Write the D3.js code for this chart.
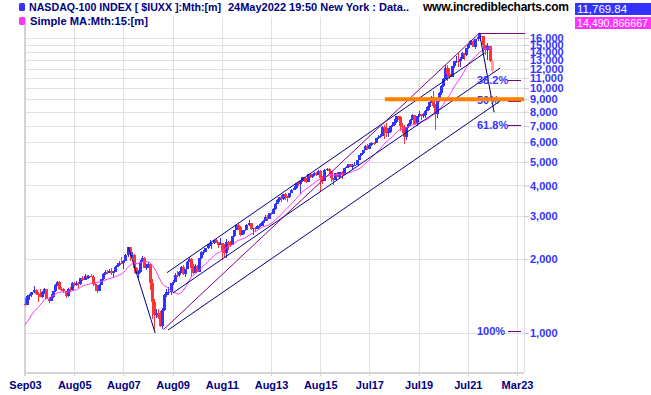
<!DOCTYPE html>
<html>
<head>
<meta charset="utf-8">
<script src="https://cdn.jsdelivr.net/npm/d3@7"></script>
<style>
body { margin: 0; background: #fff; }
svg { display: block; font-family: "Liberation Sans", Arial, sans-serif; }
</style>
</head>
<body>
<svg id="chart" width="651" height="395"></svg>
<script>
// monthly NASDAQ-100 bars, Sep 2003 .. May 2022
var first_month = "2003-09";

var bar_open = [
    1316, 1304, 1415, 1425,
    1468, 1494, 1446, 1438, 1401, 1466, 1517, 1375, 1354, 1406, 1478, 1566,
    1621, 1519, 1506, 1483, 1411, 1516, 1493, 1605, 1574, 1601, 1579, 1670,
    1645, 1710, 1675, 1703, 1700, 1590, 1575, 1482, 1567, 1654, 1736, 1776,
    1756, 1793, 1765, 1772, 1868, 1901, 1934, 1928, 1970, 2091, 2238, 2074,
    2085, 1842, 1748, 1781, 1950, 2031, 1837, 1873, 1919, 1606, 1338, 1180,
    1212, 1163, 1069, 1237, 1433, 1477, 1477, 1595, 1610, 1720, 1718, 1766,
    1860, 1742, 1828, 1957, 2004, 1845, 1754, 1884, 1782, 2022, 2137, 2142,
    2218, 2285, 2334, 2338, 2401, 2354, 2294, 2320, 2165, 2120, 2350, 2300,
    2278, 2477, 2634, 2756, 2718, 2523, 2616, 2632, 2772, 2799, 2650, 2677,
    2661, 2731, 2738, 2818, 2866, 2982, 2910, 3096, 3049, 3218, 3372, 3501,
    3592, 3521, 3689, 3596, 3583, 3736, 3849, 3895, 4083, 4050, 4158, 4335,
    4236, 4150, 4441, 4334, 4415, 4509, 4397, 4587, 4275, 4182, 4648, 4665,
    4593, 4280, 4201, 4484, 4341, 4523, 4418, 4731, 4772, 4875, 4801, 4811,
    4864, 5078, 5331, 5436, 5584, 5788, 5647, 5880, 5988, 5979, 6248, 6338,
    6397, 6950, 6855, 6581, 6606, 6968, 7040, 7272, 7660, 7627, 6968, 6950,
    6330, 6907, 7097, 7378, 7781, 7127, 7672, 7849, 7692, 7750, 8084, 8403,
    8733, 9150, 8462, 7813, 8890, 9556, 10157, 10906, 12111, 11418, 11052, 12268,
    12888, 12925, 12909, 13092, 13861, 13687, 14554, 14960, 15582, 14690, 15850, 16135,
    16320, 14931, 14237, 14839, 12855
];
var bar_high = [
    1392, 1426, 1442, 1471,
    1553, 1510, 1475, 1516, 1480, 1521, 1500, 1390, 1440, 1487, 1586, 1630,
    1627, 1545, 1530, 1485, 1530, 1545, 1615, 1610, 1625, 1610, 1680, 1716,
    1735, 1720, 1720, 1745, 1720, 1605, 1575, 1590, 1665, 1750, 1815, 1805,
    1830, 1835, 1790, 1875, 1935, 1975, 2035, 1990, 2095, 2239, 2222, 2140,
    2100, 1865, 1800, 1980, 2070, 2050, 1915, 1955, 1915, 1660, 1380, 1250,
    1255, 1230, 1265, 1440, 1510, 1545, 1600, 1650, 1750, 1790, 1795, 1885,
    1895, 1830, 1965, 2040, 2020, 1910, 1910, 1900, 2030, 2160, 2180, 2228,
    2300, 2400, 2345, 2410, 2430, 2360, 2435, 2320, 2300, 2420, 2380, 2365,
    2480, 2640, 2780, 2800, 2740, 2625, 2645, 2780, 2880, 2820, 2690, 2715,
    2750, 2780, 2830, 2880, 3040, 3030, 3100, 3130, 3230, 3380, 3510, 3600,
    3650, 3700, 3740, 3610, 3740, 3855, 3990, 4085, 4120, 4160, 4350, 4350,
    4290, 4450, 4480, 4470, 4550, 4550, 4610, 4640, 4380, 4650, 4720, 4700,
    4590, 4290, 4490, 4560, 4540, 4565, 4735, 4795, 4890, 4895, 4900, 4965,
    5100, 5335, 5450, 5590, 5830, 5900, 5965, 6000, 6005, 6270, 6410, 6460,
    7020, 7030, 7190, 6880, 6980, 7280, 7470, 7660, 7700, 7700, 7200, 7050,
    6960, 7165, 7450, 7850, 7780, 7720, 8040, 7850, 7900, 8100, 8405, 8740,
    9270, 9720, 8600, 9030, 9600, 10280, 10950, 12440, 12420, 12050, 12330, 12900,
    13500, 13880, 13350, 14060, 13880, 14570, 15100, 15630, 15700, 15860, 16765, 16573,
    16320, 15045, 15260, 14840, 13100
];
var bar_low = [
    1285, 1305, 1367, 1400,
    1455, 1430, 1340, 1398, 1385, 1440, 1372, 1322, 1345, 1386, 1464, 1560,
    1500, 1490, 1460, 1390, 1406, 1480, 1486, 1560, 1560, 1522, 1576, 1635,
    1640, 1660, 1665, 1690, 1560, 1480, 1450, 1480, 1565, 1640, 1725, 1745,
    1750, 1730, 1690, 1770, 1860, 1880, 1905, 1825, 1960, 2050, 1960, 2030,
    1756, 1740, 1670, 1760, 1945, 1837, 1800, 1840, 1500, 1145, 1018, 1150,
    1140, 1060, 1043, 1230, 1400, 1430, 1425, 1570, 1620, 1690, 1700, 1760,
    1730, 1700, 1825, 1950, 1700, 1745, 1750, 1770, 1785, 2000, 2080, 2140,
    2210, 2270, 2200, 2310, 2330, 2215, 2290, 1985, 2035, 2020, 2180, 2240,
    2280, 2470, 2630, 2640, 2480, 2510, 2540, 2630, 2740, 2640, 2520, 2610,
    2660, 2690, 2730, 2745, 2860, 2870, 2920, 3040, 3050, 3185, 3350, 3440,
    3420, 3480, 3500, 3410, 3545, 3720, 3850, 3860, 3990, 3700, 4130, 4120,
    4090, 4160, 4300, 4300, 4390, 4390, 4400, 3790, 4050, 4180, 4580, 4450,
    4145, 4000, 4200, 4320, 4280, 4240, 4400, 4720, 4700, 4770, 4660, 4790,
    4870, 5070, 5300, 5370, 5580, 5570, 5640, 5800, 5860, 5970, 6170, 6230,
    6390, 6165, 6330, 6330, 6570, 6900, 7000, 7230, 7400, 6690, 6580, 5900,
    6150, 6840, 6970, 7380, 7080, 6980, 7600, 7420, 7560, 7550, 8050, 8130,
    8720, 8250, 6770, 7570, 8750, 9340, 10060, 10870, 10680, 10930, 11150, 12110,
    12600, 12200, 12200, 13080, 13000, 13510, 14400, 14940, 14680, 14490, 15600, 15500,
    13725, 13700, 13020, 12810, 11530
];
var bar_close = [
    1304, 1415, 1425, 1468,
    1494, 1446, 1438, 1401, 1466, 1517, 1375, 1354, 1406, 1478, 1566, 1621,
    1519, 1506, 1483, 1411, 1516, 1493, 1605, 1574, 1601, 1579, 1670, 1645,
    1710, 1675, 1703, 1700, 1590, 1575, 1482, 1567, 1654, 1736, 1776, 1756,
    1793, 1765, 1772, 1868, 1901, 1934, 1928, 1970, 2091, 2238, 2074, 2085,
    1842, 1748, 1781, 1950, 2031, 1837, 1873, 1919, 1606, 1338, 1180, 1212,
    1163, 1069, 1237, 1433, 1477, 1477, 1595, 1610, 1720, 1718, 1766, 1860,
    1742, 1828, 1957, 2004, 1845, 1754, 1884, 1782, 2022, 2137, 2142, 2218,
    2285, 2334, 2338, 2401, 2354, 2294, 2320, 2165, 2120, 2350, 2300, 2278,
    2477, 2634, 2756, 2718, 2523, 2616, 2632, 2772, 2799, 2650, 2677, 2661,
    2731, 2738, 2818, 2866, 2982, 2910, 3096, 3049, 3218, 3372, 3501, 3592,
    3521, 3689, 3596, 3583, 3736, 3849, 3895, 4083, 4050, 4158, 4335, 4236,
    4150, 4441, 4334, 4415, 4509, 4397, 4587, 4275, 4182, 4648, 4665, 4593,
    4280, 4201, 4484, 4341, 4523, 4418, 4731, 4772, 4875, 4801, 4811, 4864,
    5078, 5331, 5436, 5584, 5788, 5647, 5880, 5988, 5979, 6248, 6338, 6397,
    6950, 6855, 6581, 6606, 6968, 7040, 7272, 7660, 7627, 6968, 6950, 6330,
    6907, 7097, 7378, 7781, 7127, 7672, 7849, 7692, 7750, 8084, 8403, 8733,
    9150, 8462, 7813, 8890, 9556, 10157, 10906, 12111, 11418, 11052, 12268, 12888,
    12925, 12909, 13092, 13861, 13687, 14554, 14960, 15582, 14690, 15850, 16135, 16320,
    14931, 14237, 14839, 12855, 11770
];
// closes Jul02 .. Aug03, needed to start the 15 month average
var ma_warmup = [962, 942, 832, 990, 1073, 984, 982, 1009, 1018, 1106, 1198, 1201, 1258, 1316];
var ma_period = 15;

var tick_labels = ["Sep03", "Aug05", "Aug07", "Aug09", "Aug11", "Aug13", "Aug15", "Jul17", "Jul19", "Jul21", "Mar23"];
var tick_months = ["2003-09", "2005-08", "2007-08", "2009-08", "2011-08", "2013-08", "2015-08", "2017-07", "2019-07", "2021-07", "2023-03"];
var y_ticks = [1000, 2000, 3000, 4000, 5000, 6000, 7000, 8000, 9000, 10000, 11000, 12000, 13000, 14000, 15000, 16000];

// hand drawn trend lines: [date, value] pairs
var navy_lines = [
    [["2007-10-15", 2240], ["2008-11-15", 1000]],
    [["2009-05-10", 1763], ["2022-01-25", 13900]],
    [["2009-08-05", 1457], ["2022-08-05", 12066]],
    [["2009-05-25", 1028], ["2022-08-05", 8852]],
    [["2021-11-22", 16765], ["2022-05-22", 7958]]
];
var purple_lines = [
    [["2009-03-15", 1030], ["2021-11-22", 16765]]
];

// retracement between the 2008 low and the 2021 peak
var fib_peak = ["2021-11-22", 16765];
var fib_low = 1018;
var fib_levels = [0.382, 0.5, 0.618, 1];
var fib_labels = ["38.2%", "50%", "61.8%", "100%"];

var support_level = ["2018-02-15", 9000];

var header_title = "NASDAQ-100 INDEX [ $IUXX ]:Mth:[m]";
var header_time = "24May2022 19:50 New York : Data..";
var header_ma = "Simple MA:Mth:15:[m]";
var header_site = "www.incrediblecharts.com";
var last_close_text = "11,769.84";
var last_ma_text = "14,490.866667";

var blue = "#3333ff";
var red = "#ff3333";
var magenta = "#ff33ff";
var navy = "#000080";
var purple = "#800080";
var grid_colour = "#e0e0e0";

var plot_left = 25;
var plot_right = 524;
var plot_top = 17;
var plot_bottom = 373;
var tick_step = 49.2;

var parse_month = d3.timeParse("%Y-%m");
var parse_day = d3.timeParse("%Y-%m-%d");

var x = d3.scaleTime()
    .domain(tick_months.map(parse_month))
    .range(tick_months.map(function(d, i) { return plot_left + i * tick_step; }));

var y = d3.scaleLog()
    .domain([1000, 10000])
    .range([333, 88]);

var svg = d3.select("#chart");

// grid
var grid = svg.append("g").attr("shape-rendering", "crispEdges");
grid.selectAll("line.h")
    .data(y_ticks)
    .enter()
    .append("line")
    .attr("x1", plot_left)
    .attr("x2", plot_right)
    .attr("y1", function(d) { return Math.round(y(d)) + 0.5; })
    .attr("y2", function(d) { return Math.round(y(d)) + 0.5; })
    .attr("stroke", grid_colour);
grid.selectAll("line.v")
    .data(tick_months)
    .enter()
    .append("line")
    .attr("x1", function(d) { return Math.round(x(parse_month(d))) + 0.5; })
    .attr("x2", function(d) { return Math.round(x(parse_month(d))) + 0.5; })
    .attr("y1", plot_top)
    .attr("y2", plot_bottom)
    .attr("stroke", grid_colour);
grid.append("line")
    .attr("x1", plot_left).attr("x2", plot_left)
    .attr("y1", plot_top).attr("y2", plot_bottom + 3)
    .attr("stroke", "#d4d4d4").attr("stroke-width", 2);
grid.append("line")
    .attr("x1", plot_right + 0.5).attr("x2", plot_right + 0.5)
    .attr("y1", plot_top).attr("y2", plot_bottom)
    .attr("stroke", grid_colour);
grid.append("line")
    .attr("x1", plot_left).attr("x2", plot_right)
    .attr("y1", plot_bottom).attr("y2", plot_bottom)
    .attr("stroke", "#d4d4d4").attr("stroke-width", 2);

// x axis
var x_axis = svg.append("g")
    .attr("transform", "translate(0," + plot_bottom + ")")
    .call(d3.axisBottom(x)
        .tickValues(tick_months.map(parse_month))
        .tickFormat(function(d, i) { return tick_labels[i]; })
        .tickSize(3)
        .tickPadding(5));
x_axis.select(".domain").remove();
x_axis.selectAll(".tick line").attr("stroke", "#d4d4d4");
x_axis.selectAll(".tick text")
    .attr("fill", navy)
    .style("font-family", "'Liberation Sans', Arial, sans-serif")
    .style("font-weight", "bold")
    .style("font-size", "11px");

// y axis on the right
var y_axis = svg.append("g")
    .attr("transform", "translate(" + plot_right + ",0)")
    .call(d3.axisRight(y)
        .tickValues(y_ticks)
        .tickFormat(d3.format(","))
        .tickSize(5)
        .tickPadding(1));
y_axis.select(".domain").remove();
y_axis.selectAll(".tick line").attr("stroke", "#c8c8c8");
y_axis.selectAll(".tick text")
    .attr("fill", blue)
    .style("font-family", "'Liberation Sans', Arial, sans-serif")
    .style("font-weight", "bold")
    .style("font-size", "11px");

// bars
var start = parse_month(first_month);
var bars = bar_close.map(function(c, i) {
    return {
        date: d3.timeMonth.offset(start, i),
        o: bar_open[i], h: bar_high[i], l: bar_low[i], c: c,
        last: i === bar_close.length - 1
    };
});

function bar_colour(d) {
    if (d.last) {
        return "#ff9f9f";
    }
    return d.c >= d.o ? blue : red;
}

var candles = svg.append("g").attr("shape-rendering", "crispEdges");
candles.selectAll("rect.wick")
    .data(bars)
    .enter()
    .append("rect")
    .attr("x", function(d) { return Math.round(x(d.date)); })
    .attr("y", function(d) { return y(d.h); })
    .attr("width", 1)
    .attr("height", function(d) { return Math.max(1, y(d.l) - y(d.h)); })
    .attr("fill", bar_colour);
candles.selectAll("rect.body")
    .data(bars)
    .enter()
    .append("rect")
    .attr("x", function(d) { return Math.round(x(d.date)) - 1; })
    .attr("y", function(d) { return y(Math.max(d.o, d.c)); })
    .attr("width", 3)
    .attr("height", function(d) { return Math.max(1, Math.abs(y(d.o) - y(d.c))); })
    .attr("fill", bar_colour);

// 15 month simple moving average
var all_closes = ma_warmup.concat(bar_close);
var ma = bars.map(function(d, i) {
    return { date: d.date, v: d3.mean(all_closes.slice(i, i + ma_period)) };
});
svg.append("path")
    .datum(ma)
    .attr("fill", "none")
    .attr("stroke", magenta)
    .attr("stroke-width", 1)
    .attr("d", d3.line()
        .x(function(d) { return x(d.date); })
        .y(function(d) { return y(d.v); }));

// trend lines
function draw_lines(lines, colour) {
    svg.append("g")
        .selectAll("line")
        .data(lines)
        .enter()
        .append("line")
        .attr("x1", function(d) { return x(parse_day(d[0][0])); })
        .attr("y1", function(d) { return y(d[0][1]); })
        .attr("x2", function(d) { return x(parse_day(d[1][0])); })
        .attr("y2", function(d) { return y(d[1][1]); })
        .attr("stroke", colour)
        .attr("stroke-width", 1);
}
draw_lines(navy_lines, navy);
draw_lines(purple_lines, purple);

// peak level to the axis
svg.append("line")
    .attr("x1", x(parse_day(fib_peak[0])))
    .attr("x2", plot_right + 1)
    .attr("y1", Math.round(y(fib_peak[1])) + 0.5)
    .attr("y2", Math.round(y(fib_peak[1])) + 0.5)
    .attr("stroke", purple)
    .attr("stroke-width", 1);

// fibonacci retracement marks
var fib = fib_levels.map(function(f, i) {
    return { label: fib_labels[i], v: fib_peak[1] - f * (fib_peak[1] - fib_low) };
});
var fib_g = svg.append("g");
fib_g.selectAll("line")
    .data(fib)
    .enter()
    .append("line")
    .attr("x1", 508)
    .attr("x2", 521)
    .attr("y1", function(d) { return Math.round(y(d.v)) + 0.5; })
    .attr("y2", function(d) { return Math.round(y(d.v)) + 0.5; })
    .attr("stroke", purple)
    .attr("stroke-width", 1);
fib_g.selectAll("text")
    .data(fib)
    .enter()
    .append("text")
    .attr("x", 477)
    .attr("y", function(d) { return y(d.v); })
    .attr("dy", "0.35em")
    .attr("fill", blue)
    .style("font-weight", "bold")
    .style("font-size", "11px")
    .text(function(d) { return d.label; });

// support line
svg.append("line")
    .attr("x1", x(parse_day(support_level[0])))
    .attr("x2", plot_right)
    .attr("y1", y(support_level[1]))
    .attr("y2", y(support_level[1]))
    .attr("stroke", "#ff8000")
    .attr("stroke-width", 4);

// header
var header = svg.append("g");
header.append("rect").attr("x", 19).attr("y", 3).attr("width", 6).attr("height", 8).attr("rx", 1.5).attr("fill", blue);
header.append("rect").attr("x", 19).attr("y", 17).attr("width", 6).attr("height", 8).attr("rx", 1.5).attr("fill", magenta);
header.append("text").attr("x", 29).attr("y", 11).attr("fill", navy)
    .attr("textLength", 192).attr("lengthAdjust", "spacingAndGlyphs")
    .style("font-weight", "bold").style("font-size", "11px").text(header_title);
header.append("text").attr("x", 228).attr("y", 11).attr("fill", navy)
    .attr("textLength", 181).attr("lengthAdjust", "spacingAndGlyphs")
    .style("font-weight", "bold").style("font-size", "11px").text(header_time);
header.append("text").attr("x", 30).attr("y", 25).attr("fill", navy)
    .attr("textLength", 118).attr("lengthAdjust", "spacingAndGlyphs")
    .style("font-weight", "bold").style("font-size", "11px").text(header_ma);
header.append("text").attr("x", 423).attr("y", 11).attr("fill", "#000")
    .attr("textLength", 146).attr("lengthAdjust", "spacing")
    .style("font-weight", "bold").style("font-size", "12px").text(header_site);
header.append("rect").attr("x", 575).attr("y", 3).attr("width", 76).attr("height", 12).attr("fill", blue);
header.append("rect").attr("x", 575).attr("y", 17).attr("width", 76).attr("height", 12).attr("fill", magenta);
header.append("text").attr("x", 577).attr("y", 13).attr("fill", "#fff")
    .attr("textLength", 50).attr("lengthAdjust", "spacingAndGlyphs")
    .style("font-size", "11px").text(last_close_text);
header.append("text").attr("x", 577).attr("y", 27).attr("fill", "#fff")
    .attr("textLength", 71).attr("lengthAdjust", "spacingAndGlyphs")
    .style("font-size", "11px").text(last_ma_text);
</script>
</body>
</html>
